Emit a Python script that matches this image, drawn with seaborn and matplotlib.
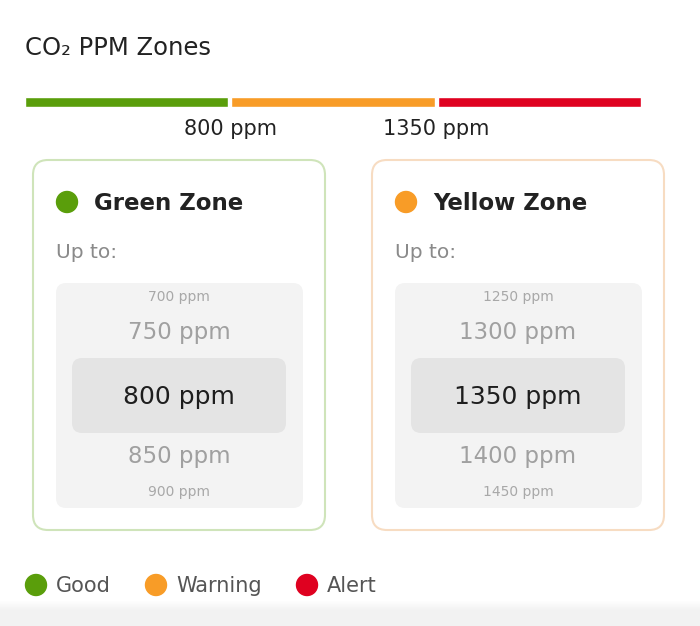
import numpy as np
import seaborn as sns
import matplotlib.pyplot as plt
from matplotlib.patches import FancyBboxPatch, Circle, Rectangle

# data
zone_names = ["Good", "Warning", "Alert"]
zone_colors = ["#5a9e0b", "#f89c27", "#df0120"]
zone_limits = ["800 ppm", "1350 ppm"]
card_titles = ["Green Zone", "Yellow Zone"]
card_edges = ["#cfe4ba", "#f7dcc2"]
picker_values = [[700, 750, 800, 850, 900], [1250, 1300, 1350, 1400, 1450]]

sns.set_theme(style="white")
plt.rcParams["font.family"] = "DejaVu Sans"

fig = plt.figure(figsize=(7, 6.26), dpi=100)
ax = fig.add_axes([0, 0, 1, 1])
ax.set_xlim(0, 700)
ax.set_ylim(626, 0)
ax.axis("off")

# soft grey band at bottom
for i in range(26):
    ax.add_patch(Rectangle((0, 600 + i), 700, 1, color="#f2f2f2", alpha=min(1, i / 10), lw=0))

ax.text(25, 48, "CO₂ PPM Zones", fontsize=17.5, color="#222222", va="center", ha="left")

# zone bar in its own axes
bax = fig.add_axes([25 / 700, 1 - 107 / 626, 616 / 700, 10 / 626])
bax.barh([0] * 3, [0.985] * 3, left=np.arange(3), color=zone_colors, height=1, align="edge")
bax.set_xlim(0, 2.985)
bax.set_ylim(0, 1)
bax.axis("off")
for i, lab in enumerate(zone_limits):
    ax.text(231 + 205 * i, 129, lab, fontsize=15, color="#222222", ha="center", va="center")

for c in range(2):
    x0 = 33 + 339 * c
    ax.add_patch(FancyBboxPatch((x0, 160), 292, 370, boxstyle="round,pad=0,rounding_size=15",
                                fc="white", ec=card_edges[c], lw=1.5))
    ax.add_patch(Circle((x0 + 34, 202), 10.5, color=zone_colors[c]))
    ax.text(x0 + 61, 203, card_titles[c], fontsize=16.5, weight="bold", color="#222222", va="center")
    ax.text(x0 + 23, 253, "Up to:", fontsize=14.5, color="#8a8a8a", va="center")
    ax.add_patch(FancyBboxPatch((x0 + 23, 283), 247, 225, boxstyle="round,pad=0,rounding_size=10",
                                fc="#f3f3f3", ec="none"))
    ax.add_patch(FancyBboxPatch((x0 + 39, 358), 214, 75, boxstyle="round,pad=0,rounding_size=10",
                                fc="#e4e4e4", ec="none"))
    cx = x0 + 146
    ys = [297, 333, 397, 457, 492]
    sizes = [10, 16.5, 18, 16.5, 10]
    cols = ["#a8a8a8", "#a0a0a0", "#1e1e1e", "#a0a0a0", "#a8a8a8"]
    for v, y, s, col in zip(picker_values[c], ys, sizes, cols):
        ax.text(cx, y, f"{v} ppm", fontsize=s, color=col, ha="center", va="center")

# legend
lx = [36, 156, 307]
for x, name, col in zip(lx, zone_names, zone_colors):
    ax.add_patch(Circle((x, 585), 10.5, color=col))
    ax.text(x + 20, 586, name, fontsize=15, color="#555555", va="center")

fig.savefig("out.png", dpi=100)
